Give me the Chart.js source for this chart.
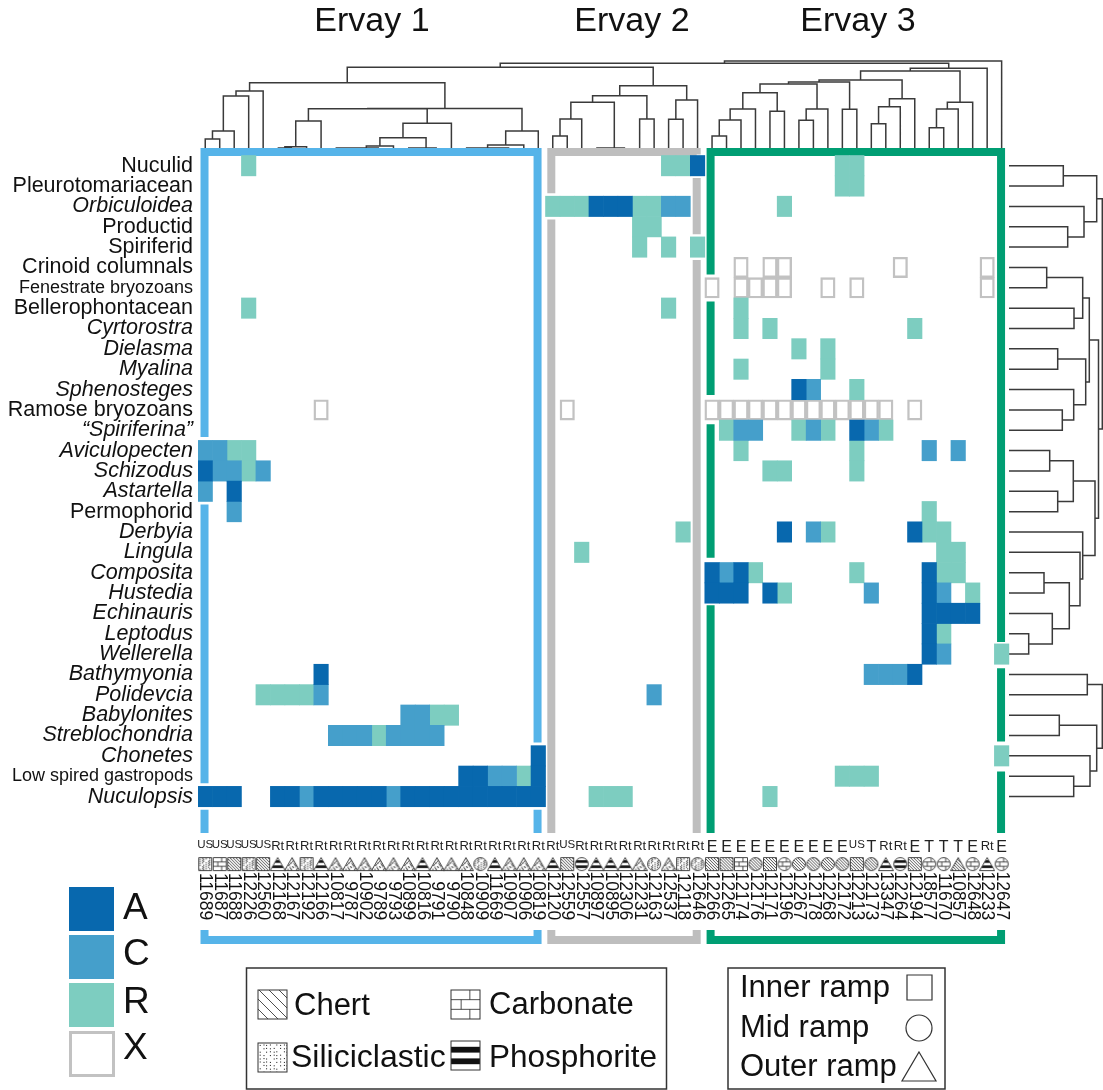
<!DOCTYPE html>
<html>
<head>
<meta charset="utf-8">
<title>Ervay heatmap</title>
<script src="https://cdn.jsdelivr.net/npm/chart.js@4"></script>
<style>
  html, body { margin: 0; padding: 0; background: #fff; }
  canvas { display: block; }
</style>
</head>
<body>
<canvas id="chart" width="1103" height="1090"></canvas>
<script>
const rowLabels = ['Nuculid', 'Pleurotomariacean', 'Orbiculoidea', 'Productid', 'Spiriferid', 'Crinoid columnals',
    'Fenestrate bryozoans', 'Bellerophontacean', 'Cyrtorostra', 'Dielasma', 'Myalina', 'Sphenosteges',
    'Ramose bryozoans', '\u201cSpiriferina\u201d', 'Aviculopecten', 'Schizodus', 'Astartella', 'Permophorid',
    'Derbyia', 'Lingula', 'Composita', 'Hustedia', 'Echinauris', 'Leptodus', 'Wellerella', 'Bathymyonia',
    'Polidevcia', 'Babylonites', 'Streblochondria', 'Chonetes', 'Low spired gastropods', 'Nuculopsis'];
const uprightRows = ['Nuculid', 'Pleurotomariacean', 'Productid', 'Spiriferid', 'Crinoid columnals',
    'Fenestrate bryozoans', 'Bellerophontacean', 'Ramose bryozoans', 'Permophorid', 'Low spired gastropods'];
const smallRows = ['Fenestrate bryozoans', 'Low spired gastropods'];

const sampleLabels = ['11689', '11687', '11688', '12226', '12560', '12168', '12167', '12192', '12166', '10817',
    '9787', '10902', '9789', '9793', '10899', '10816', '9791', '9790', '10848', '10909', '11669', '10907', '10906', '10819',
    '12120', '12559', '12557', '10897', '10895', '12306', '12231', '12163', '12537', '12118', '12646',
    '12266', '12265', '12174', '12176', '12171', '12196', '12267', '12178', '12268', '12172', '12213', '12173',
    '13347', '12264', '12194', '18577', '11670', '10857', '12648', '12233', '12647'];
const envLabels = ['US', 'US', 'US', 'US', 'US', 'Rt', 'Rt', 'Rt', 'Rt', 'Rt', 'Rt', 'Rt', 'Rt', 'Rt', 'Rt', 'Rt', 'Rt', 'Rt', 'Rt', 'Rt', 'Rt', 'Rt', 'Rt', 'Rt',
    'Rt', 'US', 'Rt', 'Rt', 'Rt', 'Rt', 'Rt', 'Rt', 'Rt', 'Rt', 'Rt',
    'E', 'E', 'E', 'E', 'E', 'E', 'E', 'E', 'E', 'E', 'US', 'T', 'Rt', 'Rt', 'E', 'T', 'T', 'T', 'E', 'Rt', 'E'];
// s = inner ramp, c = mid ramp, t = outer ramp
const rampShapes = ['s', 's', 's', 's', 's', 't', 't', 's', 't', 't', 't', 't', 't', 't', 't', 't', 't', 't', 't', 'c', 't', 't', 't', 't',
    't', 's', 'c', 't', 't', 't', 't', 'c', 't', 's', 'c',
    's', 's', 's', 'c', 's', 'c', 'c', 'c', 'c', 'c', 's', 'c', 't', 'c', 's', 'c', 'c', 't', 'c', 't', 'c'];
const lithology = ['sili', 'carb', 'chert', 'sili', 'chert', 'phos', 'sili', 'sili', 'phos', 'sili', 'sili', 'sili', 'sili', 'sili', 'sili', 'phos', 'sili', 'sili', 'sili', 'sili', 'phos', 'sili', 'sili', 'sili',
    'phos', 'chert', 'phos', 'phos', 'phos', 'phos', 'sili', 'sili', 'sili', 'sili', 'sili',
    'chert', 'chert', 'carb', 'chert', 'chert', 'carb', 'chert', 'chert', 'chert', 'chert', 'chert', 'chert', 'phos', 'phos', 'chert', 'carb', 'carb', 'chert', 'carb', 'phos', 'carb'];

// [row, column]
const cellsA = [[0, 34], [2, 27], [2, 28], [2, 29], [11, 41], [13, 45], [15, 0], [16, 2], [18, 40], [18, 49], [20, 35], [20, 37], [20, 50],
    [21, 35], [21, 36], [21, 37], [21, 39], [21, 50], [22, 50], [22, 51], [22, 52], [22, 53], [23, 50], [24, 50], [25, 8], [25, 49],
    [29, 23], [30, 18], [30, 19], [30, 23], [31, 0], [31, 1], [31, 2], [31, 5], [31, 6], [31, 8], [31, 9], [31, 10], [31, 11], [31, 12],
    [31, 14], [31, 15], [31, 16], [31, 17], [31, 18], [31, 19], [31, 20], [31, 21], [31, 22], [31, 23]];
const cellsC = [[2, 32], [2, 33], [11, 42], [13, 37], [13, 38], [13, 42], [13, 46], [14, 0], [14, 1], [14, 50], [14, 52], [15, 1], [15, 2], [15, 4],
    [16, 0], [17, 2], [18, 42], [20, 36], [21, 46], [21, 51], [24, 51], [25, 46], [25, 47], [25, 48], [26, 8], [26, 31],
    [27, 14], [27, 15], [28, 9], [28, 10], [28, 11], [28, 13], [28, 14], [28, 15], [28, 16], [30, 20], [30, 21], [31, 7], [31, 13]];
const cellsR = [[0, 3], [0, 32], [0, 33], [0, 44], [0, 45], [1, 44], [1, 45], [2, 24], [2, 25], [2, 26], [2, 30], [2, 31], [2, 40], [3, 30], [3, 31],
    [4, 30], [4, 32], [4, 34], [7, 3], [7, 32], [7, 37], [8, 37], [8, 39], [8, 49], [9, 41], [9, 43], [10, 37], [10, 43], [11, 45],
    [13, 36], [13, 41], [13, 43], [13, 47], [14, 2], [14, 3], [14, 37], [14, 45], [15, 3], [15, 39], [15, 40], [15, 45], [17, 50],
    [18, 33], [18, 43], [18, 50], [18, 51], [19, 26], [19, 51], [19, 52], [20, 38], [20, 45], [20, 51], [20, 52], [21, 40], [21, 53],
    [23, 51], [24, 55], [26, 4], [26, 5], [26, 6], [26, 7], [27, 16], [27, 17], [28, 12], [29, 55], [30, 22], [30, 44], [30, 45], [30, 46],
    [31, 27], [31, 28], [31, 29], [31, 39]];
const cellsX = [[5, 37], [5, 39], [5, 40], [5, 48], [5, 54], [6, 35], [6, 37], [6, 38], [6, 39], [6, 40], [6, 43], [6, 45], [6, 54],
    [12, 8], [12, 25], [12, 35], [12, 36], [12, 37], [12, 38], [12, 39], [12, 40], [12, 41], [12, 42], [12, 43], [12, 44], [12, 45], [12, 46], [12, 47], [12, 49]];

// dendrograms as [height, childA, childB], a bare number is a leaf (column or row)
const ervay1Tree = [65.3,
    [57, [52, [17, [9, 0, 1], 2], 3], 4],
    [39.4,
        [39.3,
            [27, [1.3, [0, 5, 6], 7], 8],
            [24.7, [10.3, [2, [0, [0, [0, 9, 10], 11], 12], 13], [0, [0, 14, 15], 16]], 17]],
        [17, [3, [0, [0, 18, 19], [0, 20, 21]], 22], 23]]];
const ervay2Tree = [62.3,
    [52.3, [45.7, [29, [12, 24, 25], 26], [0, [0, 27, 28], 29]], [29, 30, 31]],
    [48, [28.7, 32, 33], 34]];
const ervay3Tree = [79.7,
    [77,
        [68,
            [66,
                [64,
                    [55.3, [39, [28, [12, 35, 36], 37], 38], [36.7, 39, 40]],
                    [39, [27.7, 41, 42], 43]],
                [38.7, 44, 45]],
            [49.3, [41.3, [24.3, 46, 47], 48], 49]],
        [45.7, [39, [20.3, 50, 51], 52], 53]],
    54];
const columnTree = [87, [84.7, [80.7, ervay1Tree, ervay2Tree], ervay3Tree], 55];

const rowTree = [96,
    [93.3,
        [87.7, [54.3, 0, 1], [75, 2, [58.7, 3, 4]]],
        [89.5,
            [80.3,
                [73.7, [37.7, 5, 6], [65, 7, 8]],
                [76.7, [48.7, 9, 10], [64.7, 11, [53.3, 12, 13]]]],
            [86,
                [64.3, [40.7, 14, 15], [48.7, 16, 17]],
                [73.7, 18, [71, 19, [60.3, [35, 20, 21], [43.3, 22, [19.7, 23, 24]]]]]]]],
    [93.3, [78.3, 25, 26], [87.7, [50.3, 27, 28], [81, 29, [64.7, 30, 31]]]]];

// frame strokes in column / row units, gaps leave room for the cells sitting on the frame
const frameBlue = [[[0.45, 13.83], [0.45, -0.17], [23.45, -0.17], [23.45, 28.85]], [[0.45, 17.15], [0.45, 30.85]], [[0.45, 32.15], [0.45, 33.29]], [[23.45, 32.15], [23.45, 33.29]],
    [[0.45, 38.06], [0.45, 38.55], [23.45, 38.55], [23.45, 38.06]]];
const frameGray = [[[24.4, 1.85], [24.4, -0.17], [34.44, -0.17], [34.44, -0.05]], [[24.4, 3.15], [24.4, 33.29]], [[34.44, 1.1], [34.44, 3.87]], [[34.44, 5.13], [34.44, 33.29]],
    [[24.4, 38.06], [24.4, 38.55], [34.44, 38.55], [34.44, 38.06]]];
const frameGreen = [[[35.4, 5.85], [35.4, -0.17], [55.46, -0.17], [55.46, 23.9]], [[35.4, 7.18], [35.4, 11.77]], [[35.4, 13.2], [35.4, 19.76]], [[35.4, 22.1], [35.4, 33.29]],
    [[55.46, 25.2], [55.46, 28.8]], [[55.46, 30.27], [55.46, 33.29]],
    [[35.4, 38.06], [35.4, 38.55], [55.46, 38.55], [55.46, 38.06]]];

const COL_W = 14.48;
const COLOR_A = '#0868ae', COLOR_C = '#459fcb', COLOR_R = '#7dcdc0', COLOR_X = '#c2c2c2';
const LINE_COLOR = '#3a3a3a';
const FONT = '"Liberation Sans", Arial, sans-serif';

const cellData = (cells) => cells.map(([row, col]) => ({ x: col + 0.5, y: [row, row + 1] }));

const cellDataset = (cells, fill, border) => ({
    type: 'bar',
    data: cellData(cells),
    backgroundColor: fill,
    borderColor: border || fill,
    borderWidth: border ? 2.4 : 0,
    borderSkipped: false,
    barThickness: COL_W,
    grouped: false,
    order: border ? 2 : 1,
});

// walks a tree and appends its bracket polylines, broken up by null points
const treePoints = (node, points, toPoint) => {
    if (typeof node === 'number') return { pos: node + 0.5, h: 0 };
    const a = treePoints(node[1], points, toPoint);
    const b = treePoints(node[2], points, toPoint);
    points.push(toPoint(a.pos, a.h), toPoint(a.pos, node[0]), toPoint(b.pos, node[0]), toPoint(b.pos, b.h), { x: null, y: null });
    return { pos: (a.pos + b.pos) / 2, h: node[0] };
};

const columnPoints = [];
treePoints(columnTree, columnPoints, (pos, h) => ({ x: pos, y: h }));
const rowPoints = [];
treePoints(rowTree, rowPoints, (pos, h) => ({ x: h, y: pos }));

const framePoints = (strokes) => strokes.flatMap((s) => [...s.map(([x, y]) => ({ x, y })), { x: null, y: null }]);

const frameDataset = (strokes, color) => ({
    type: 'scatter',
    showLine: true,
    data: framePoints(strokes),
    borderColor: color,
    borderWidth: 8,
    borderJoinStyle: 'miter',
    borderCapStyle: 'butt',
    pointRadius: 0,
    spanGaps: false,
    order: 3,
});

const treeDataset = (points, xAxisID, yAxisID) => ({
    type: 'scatter',
    showLine: true,
    data: points,
    xAxisID,
    yAxisID,
    borderColor: LINE_COLOR,
    borderWidth: 1.5,
    borderJoinStyle: 'miter',
    pointRadius: 0,
    spanGaps: false,
    order: 5,
});

// little lithology patterns, used for the column symbols and the legend
const paintPattern = (ctx, lith, x, y, w, h, step) => {
    ctx.strokeStyle = '#222';
    ctx.fillStyle = '#111';
    ctx.lineWidth = 0.8;
    if (lith === 'chert') {
        ctx.beginPath();
        for (let d = -h; d < w; d += step) {
            ctx.moveTo(x + d, y);
            ctx.lineTo(x + d + h, y + h);
        }
        ctx.stroke();
    } else if (lith === 'carb') {
        const rowH = h / 3;
        ctx.beginPath();
        for (let i = 1; i < 3; i++) {
            ctx.moveTo(x, y + i * rowH);
            ctx.lineTo(x + w, y + i * rowH);
        }
        ctx.moveTo(x + w * 0.65, y);
        ctx.lineTo(x + w * 0.65, y + rowH);
        ctx.moveTo(x + w * 0.35, y + rowH);
        ctx.lineTo(x + w * 0.35, y + 2 * rowH);
        ctx.moveTo(x + w * 0.65, y + 2 * rowH);
        ctx.lineTo(x + w * 0.65, y + h);
        ctx.stroke();
    } else if (lith === 'sili') {
        let i = 0;
        for (let py = y + step / 2; py < y + h; py += step) {
            for (let px = x + step / 2; px < x + w; px += step) {
                i++;
                if (i % 5 === 0) continue;
                ctx.fillRect(px + (i % 3) * 0.4 - 0.4, py + (i % 2) * 0.4 - 0.2, 1, 1);
            }
        }
    } else {
        ctx.fillRect(x, y + h * 0.2, w, h * 0.2);
        ctx.fillRect(x, y + h * 0.6, w, h * 0.2);
    }
};

const shapePath = (ctx, shape, x, y, w, h) => {
    ctx.beginPath();
    if (shape === 's') {
        ctx.rect(x, y, w, h);
    } else if (shape === 'c') {
        ctx.arc(x + w / 2, y + h / 2, Math.min(w, h) / 2, 0, Math.PI * 2);
    } else {
        ctx.moveTo(x + w / 2, y);
        ctx.lineTo(x + w, y + h);
        ctx.lineTo(x, y + h);
        ctx.closePath();
    }
};

const makeSymbol = (shape, lith) => {
    const c = document.createElement('canvas');
    c.width = 16;
    c.height = 16;
    const ctx = c.getContext('2d');
    const [x, y, w, h] = shape === 't' ? [0.5, 1.5, 15, 13] : [1.5, 1.5, 13, 13];
    ctx.save();
    shapePath(ctx, shape, x, y, w, h);
    ctx.clip();
    paintPattern(ctx, lith, x, y, w, h, lith === 'chert' ? 3 : 2);
    ctx.restore();
    shapePath(ctx, shape, x, y, w, h);
    ctx.strokeStyle = '#444';
    ctx.lineWidth = 1;
    ctx.stroke();
    return c;
};
const symbols = rampShapes.map((shape, i) => makeSymbol(shape, lithology[i]));

// titles and the two legend boxes under the chart
const overlayPlugin = {
    id: 'overlay',
    afterDraw(chart) {
        const { ctx } = chart;
        const text = (str, x, y, size, align) => {
            ctx.font = `${size}px ${FONT}`;
            ctx.textAlign = align || 'left';
            ctx.textBaseline = 'middle';
            ctx.fillStyle = '#111';
            ctx.fillText(str, x, y);
        };
        ctx.save();

        text('Ervay 1', 372, 22, 34, 'center');
        text('Ervay 2', 632, 22, 34, 'center');
        text('Ervay 3', 858, 22, 34, 'center');

        // abundance key
        [['A', COLOR_A, 887, 909], ['C', COLOR_C, 935, 955], ['R', COLOR_R, 983, 1003]].forEach(([label, color, top, mid]) => {
            ctx.fillStyle = color;
            ctx.fillRect(69, top, 45, 44);
            text(label, 123, mid, 37);
        });
        ctx.strokeStyle = COLOR_X;
        ctx.lineWidth = 3;
        ctx.strokeRect(70.5, 1032.5, 43, 43);
        text('X', 123, 1049, 37);

        // lithology box
        ctx.strokeStyle = '#333';
        ctx.lineWidth = 1.5;
        ctx.strokeRect(246.5, 968, 420, 121);
        [['chert', 'Chert', 258, 990, 294, 1006, 31], ['carb', 'Carbonate', 451, 990, 489, 1005, 31],
            ['sili', 'Siliciclastic', 258, 1043, 291, 1058, 32], ['phos', 'Phosphorite', 451, 1041, 489, 1058, 31.5]].forEach(([lith, label, x, y, tx, ty, size]) => {
            ctx.save();
            ctx.beginPath();
            ctx.rect(x, y, 29, 29);
            ctx.clip();
            paintPattern(ctx, lith, x, y, 29, 29, lith === 'chert' ? 10 : 3.4);
            ctx.restore();
            ctx.strokeStyle = '#333';
            ctx.lineWidth = 1;
            ctx.strokeRect(x, y, 29, 29);
            text(label, tx, ty, size);
        });

        // depositional setting box
        ctx.strokeStyle = '#333';
        ctx.lineWidth = 1.5;
        ctx.strokeRect(728, 968, 217, 121);
        text('Inner ramp', 740, 988, 31);
        text('Mid ramp', 740, 1028, 31);
        text('Outer ramp', 740, 1067, 31);
        ctx.lineWidth = 1.2;
        shapePath(ctx, 's', 907, 975, 25, 25);
        ctx.stroke();
        shapePath(ctx, 'c', 906, 1015, 26, 26);
        ctx.stroke();
        shapePath(ctx, 't', 902, 1052, 34, 29);
        ctx.stroke();
        ctx.restore();
    },
};

const colTicks = () => sampleLabels.map((_, i) => ({ value: i + 0.5 }));
const rowTicks = () => rowLabels.map((_, i) => ({ value: i + 0.5 }));

// the tick labels must not push the plot area inwards
const noPadding = (scale) => {
    scale.paddingLeft = 0;
    scale.paddingRight = 0;
    scale.paddingTop = 0;
    scale.paddingBottom = 0;
};

const ctx = document.getElementById('chart').getContext('2d');
new Chart(ctx, {
    type: 'scatter',
    plugins: [overlayPlugin],
    data: {
        datasets: [
            cellDataset(cellsA, COLOR_A),
            cellDataset(cellsC, COLOR_C),
            cellDataset(cellsR, COLOR_R),
            cellDataset(cellsX, '#ffffff', COLOR_X),
            frameDataset(frameBlue, '#56b4e9'),
            frameDataset(frameGray, '#bebebe'),
            frameDataset(frameGreen, '#009e73'),
            treeDataset(columnPoints, 'x', 'yTop'),
            treeDataset(rowPoints, 'xRight', 'y'),
            {
                type: 'scatter',
                data: sampleLabels.map((_, i) => ({ x: i + 0.5, y: 34.82 })),
                pointStyle: (c) => symbols[c.dataIndex],
                pointRadius: 7,
                order: 4,
            },
        ],
    },
    options: {
        responsive: false,
        animation: false,
        events: [],
        layout: { padding: 0, autoPadding: false },
        plugins: { legend: { display: false }, tooltip: { enabled: false } },
        scales: {
            x: {
                type: 'linear',
                min: 0,
                max: 62.5,
                offset: false,
                position: { y: 33.55 },
                grid: { display: false, drawTicks: false, offset: false },
                border: { display: false },
                afterBuildTicks: (scale) => { scale.ticks = colTicks(); },
                afterFit: noPadding,
                ticks: {
                    autoSkip: false,
                    minRotation: 0,
                    maxRotation: 0,
                    padding: 0,
                    color: '#222',
                    callback: (value, index) => envLabels[index],
                    font: (c) => {
                        const env = envLabels[c.index];
                        return { family: FONT, size: env === 'US' ? 11.5 : env === 'Rt' ? 13 : 16 };
                    },
                },
            },
            xNum: {
                type: 'linear',
                min: 0,
                max: 62.5,
                position: { y: 37.58 },
                grid: { display: false, drawTicks: false },
                border: { display: false },
                afterBuildTicks: (scale) => { scale.ticks = colTicks(); },
                afterFit: noPadding,
                ticks: {
                    autoSkip: false,
                    minRotation: -90,
                    maxRotation: -90,
                    padding: 0,
                    color: '#111',
                    font: { family: FONT, size: 17.5 },
                    callback: (value, index) => sampleLabels[index],
                },
            },
            xRight: { type: 'linear', display: false, min: -811, max: 94 },
            y: {
                type: 'linear',
                reverse: true,
                min: -7.641,
                max: 45.92,
                position: 'left',
                afterFit: (scale) => { noPadding(scale); scale.width = 198; },
                grid: { display: false, drawTicks: false },
                border: { display: false },
                afterBuildTicks: (scale) => { scale.ticks = rowTicks(); },
                ticks: {
                    autoSkip: false,
                    padding: 5,
                    color: '#111',
                    callback: (value, index) => rowLabels[index],
                    font: (c) => {
                        const name = rowLabels[c.index];
                        return {
                            family: FONT,
                            size: smallRows.includes(name) ? 18 : 21.5,
                            style: uprightRows.includes(name) ? 'normal' : 'italic',
                        };
                    },
                },
            },
            yTop: { type: 'linear', display: false, min: -942, max: 148 },
        },
    },
});
</script>
</body>
</html>
